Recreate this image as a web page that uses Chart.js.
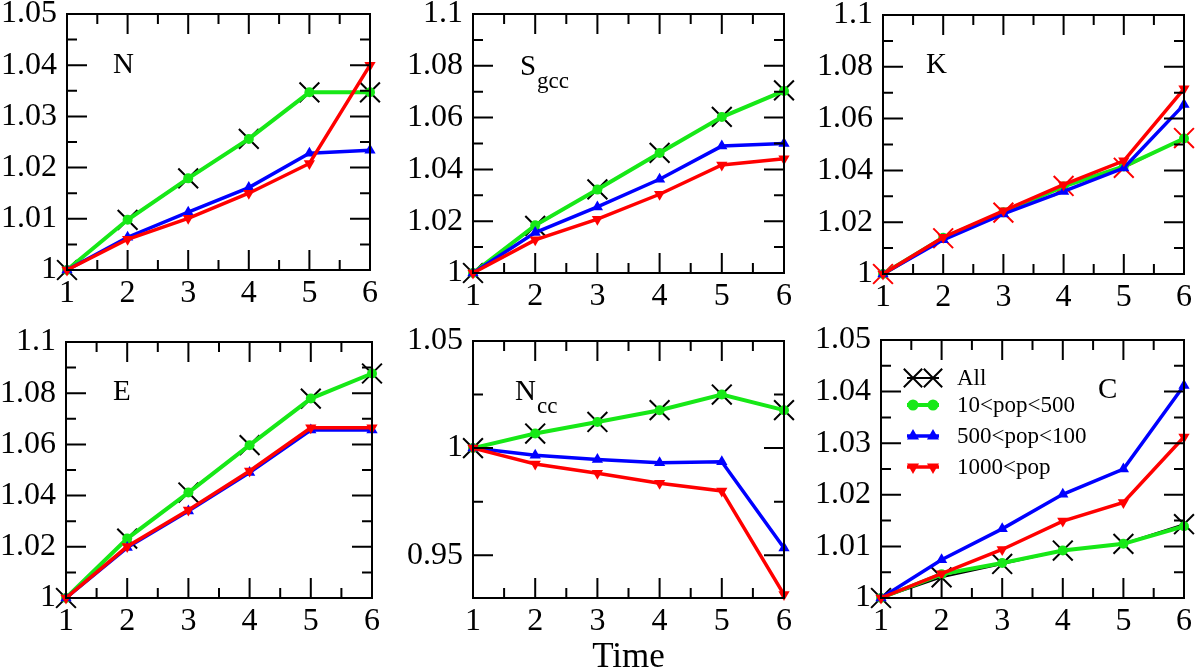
<!DOCTYPE html>
<html>
<head>
<meta charset="utf-8">
<script src="https://cdn.jsdelivr.net/npm/chart.js@4.4.0/dist/chart.umd.min.js"></script>
<style>
  html, body { margin: 0; padding: 0; background: #fff; }
  #wrap { position: relative; width: 1200px; height: 670px; overflow: hidden; }
  .panel { position: absolute; }
</style>
</head>
<body>
<div id="wrap"></div>
<script>
// x values (time steps)
const time = [1, 2, 3, 4, 5, 6]
const seriesNames = ['All', '10<pop<500', '500<pop<100', '1000<pop']

// N
const nAll = [1, 1.0098, 1.0179, 1.0256, 1.0347, 1.0347]
const nSmall = [1, 1.0098, 1.0179, 1.0256, 1.0347, 1.0347]
const nMid = [1, 1.0064, 1.0113, 1.0161, 1.0228, 1.0234]
const nLarge = [1, 1.0060, 1.0101, 1.0150, 1.0208, 1.0400]

// S_gcc
const sAll = [1, 1.0182, 1.0323, 1.0464, 1.0603, 1.0705]
const sSmall = [1, 1.0184, 1.0322, 1.0463, 1.0602, 1.0703]
const sMid = [1, 1.0156, 1.0255, 1.0362, 1.0490, 1.0500]
const sLarge = [1, 1.0128, 1.0208, 1.0304, 1.0417, 1.0441]

// K
const kAll = [1, 1.0138, 1.0237, 1.0340, 1.0410, 1.0525]
const kSmall = [1, 1.0140, 1.0238, 1.0338, 1.0415, 1.0523]
const kMid = [1, 1.0132, 1.0232, 1.0319, 1.0409, 1.0654]
const kLarge = [1, 1.0142, 1.0244, 1.0345, 1.0437, 1.0715]

// E
const eAll = [1, 1.0232, 1.0412, 1.0597, 1.0779, 1.0877]
const eSmall = [1, 1.0232, 1.0412, 1.0597, 1.0779, 1.0877]
const eMid = [1, 1.0197, 1.0340, 1.0490, 1.0656, 1.0656]
const eLarge = [1, 1.0201, 1.0344, 1.0496, 1.0665, 1.0665]

// N_cc
const ncAll = [1, 1.0068, 1.0122, 1.0177, 1.0250, 1.0177]
const ncSmall = [1, 1.0068, 1.0122, 1.0177, 1.0250, 1.0177]
const ncMid = [1, 0.9967, 0.9947, 0.9932, 0.9936, 0.9533]
const ncLarge = [1, 0.9926, 0.9882, 0.9836, 0.9800, 0.9316]

// C
const cAll = [1, 1.0040, 1.0066, 1.0092, 1.0105, 1.0143]
const cSmall = [1, 1.0046, 1.0068, 1.0092, 1.0105, 1.0139]
const cMid = [1, 1.0074, 1.0134, 1.0201, 1.0250, 1.0412]
const cLarge = [1, 1.0047, 1.0094, 1.0149, 1.0185, 1.0312]

// y axis ticks
const ticks005 = [1, 1.01, 1.02, 1.03, 1.04, 1.05]
const minor005 = [1.005, 1.015, 1.025, 1.035, 1.045]
const ticks01 = [1, 1.02, 1.04, 1.06, 1.08, 1.1]
const minor01 = [1.01, 1.03, 1.05, 1.07, 1.09]
const ticksNcc = [0.95, 1, 1.05]
const minorNcc = [0.975, 1.025]
const xMinor = [1.5, 2.5, 3.5, 4.5, 5.5]

const SERIF = '"Liberation Serif", "Times New Roman", serif'
Chart.defaults.font.family = SERIF
Chart.defaults.color = '#000'

const GREEN = '#17e817'
const BLUE = '#0000ff'
const RED = '#ff0000'

const pts = vals => time.map((t, i) => ({ x: t, y: vals[i] }))

function makeSets (all, small, mid, large, allColor) {
  return [
    { label: seriesNames[0], data: pts(all), borderColor: allColor, borderWidth: 2,
      pointStyle: 'crossRot', pointRadius: 14, pointBorderWidth: 2,
      pointBorderColor: allColor, pointBackgroundColor: allColor, order: 4 },
    { label: seriesNames[1], data: pts(small), borderColor: GREEN, borderWidth: 4,
      pointStyle: 'circle', pointRadius: 5, pointBorderWidth: 0,
      pointBackgroundColor: GREEN, order: 3 },
    { label: seriesNames[2], data: pts(mid), borderColor: BLUE, borderWidth: 3.5,
      pointStyle: 'triangle', pointRadius: 6.5, pointBorderWidth: 0,
      pointBackgroundColor: BLUE, order: 2 },
    { label: seriesNames[3], data: pts(large), borderColor: RED, borderWidth: 3.5,
      pointStyle: 'triangle', pointRotation: 180, pointRadius: 6.5, pointBorderWidth: 0,
      pointBackgroundColor: RED, order: 1 }
  ]
}

// box + inward ticks on all four sides, and the panel name
const framePlugin = {
  id: 'frame',
  afterDraw (chart, args, opts) {
    const { ctx, chartArea: a } = chart
    const xs = chart.scales.x
    const ys = chart.scales.y
    ctx.save()
    ctx.strokeStyle = '#000'
    ctx.lineWidth = 2
    ctx.beginPath()
    const tick = (v, len, horiz) => {
      if (horiz) {
        const p = xs.getPixelForValue(v)
        ctx.moveTo(p, a.bottom); ctx.lineTo(p, a.bottom - len)
        ctx.moveTo(p, a.top); ctx.lineTo(p, a.top + len)
      } else {
        const p = ys.getPixelForValue(v)
        ctx.moveTo(a.left, p); ctx.lineTo(a.left + len, p)
        ctx.moveTo(a.right, p); ctx.lineTo(a.right - len, p)
      }
    }
    time.forEach(v => tick(v, 20, true))
    xMinor.forEach(v => tick(v, 10, true))
    opts.yMajor.forEach(v => tick(v, 20, false))
    opts.yMinor.forEach(v => tick(v, 10, false))
    ctx.stroke()
    ctx.strokeRect(a.left, a.top, a.right - a.left, a.bottom - a.top)

    ctx.fillStyle = '#000'
    ctx.textBaseline = 'alphabetic'
    ctx.font = '29px ' + SERIF
    ctx.fillText(opts.name, a.left + opts.lx, a.top + opts.ly)
    if (opts.sub) {
      ctx.font = '23px ' + SERIF
      ctx.fillText(opts.sub, a.left + opts.sx, a.top + opts.sy)
    }
    ctx.restore()
  }
}

function marker (ctx, style, r, rot, x, y) {
  if (Chart.helpers && Chart.helpers.drawPoint) {
    Chart.helpers.drawPoint(ctx, { pointStyle: style, radius: r, rotation: rot || 0, borderWidth: 2 }, x, y)
  }
}

// legend with a short line and two markers, as in the reference
const pairLegend = {
  id: 'pairLegend',
  afterDraw (chart) {
    const { ctx, chartArea: a } = chart
    const rows = [38, 65, 96, 127]
    ctx.save()
    chart.data.datasets.forEach((ds, i) => {
      const y = a.top + rows[i]
      ctx.strokeStyle = ds.borderColor
      ctx.lineWidth = ds.borderWidth
      ctx.beginPath()
      ctx.moveTo(a.left + 26, y); ctx.lineTo(a.left + 58, y)
      ctx.stroke()
      ctx.fillStyle = ds.pointBackgroundColor
      ctx.strokeStyle = ds.pointBorderColor || ds.borderColor
      ctx.lineWidth = 2
      const r = ds.pointStyle === 'crossRot' ? 13 : (ds.pointStyle === 'circle' ? 5.5 : 7)
      ;[32, 52].forEach(dx => {
        if (ds.pointStyle === 'crossRot') {
          marker(ctx, ds.pointStyle, r, 0, a.left + dx, y)
        } else {
          ctx.beginPath()
          ctx.lineWidth = 0.01
          ctx.strokeStyle = ds.pointBackgroundColor
          marker(ctx, ds.pointStyle, r, ds.pointRotation, a.left + dx, y)
        }
      })
      ctx.fillStyle = '#000'
      ctx.font = '23px ' + SERIF
      ctx.textBaseline = 'middle'
      ctx.fillText(ds.label, a.left + 76, y + 1)
    })
    ctx.restore()
  }
}

const fmt = v => String(parseFloat(Number(v).toFixed(3)))

const panels = [
  { box: { l: 67, t: 14, r: 376, b: 270 }, sets: makeSets(nAll, nSmall, nMid, nLarge, '#000'),
    yMin: 1, yMax: 1.05, yMajor: ticks005, yMinor: minor005, name: 'N', lx: 46, ly: 59 },
  { box: { l: 473, t: 14, r: 790, b: 273 }, sets: makeSets(sAll, sSmall, sMid, sLarge, '#000'),
    yMin: 1, yMax: 1.1, yMajor: ticks01, yMinor: minor01, name: 'S', lx: 47, ly: 61, sub: 'gcc', sx: 64, sy: 74 },
  { box: { l: 883, t: 15, r: 1190, b: 274 }, sets: makeSets(kAll, kSmall, kMid, kLarge, RED),
    yMin: 1, yMax: 1.1, yMajor: ticks01, yMinor: minor01, name: 'K', lx: 43, ly: 58 },
  { box: { l: 66, t: 342, r: 378, b: 598 }, sets: makeSets(eAll, eSmall, eMid, eLarge, '#000'),
    yMin: 1, yMax: 1.1, yMajor: ticks01, yMinor: minor01, name: 'E', lx: 47, ly: 58 },
  { box: { l: 473, t: 341, r: 790, b: 598 }, sets: makeSets(ncAll, ncSmall, ncMid, ncLarge, '#000'),
    yMin: 0.93, yMax: 1.05, yMajor: ticksNcc, yMinor: minorNcc, name: 'N', lx: 42, ly: 59, sub: 'cc', sx: 64, sy: 72,
    xTitle: 'Time' },
  { box: { l: 881, t: 340, r: 1190, b: 598 }, sets: makeSets(cAll, cSmall, cMid, cLarge, '#000'),
    yMin: 1, yMax: 1.05, yMajor: ticks005, yMinor: minor005, name: 'C', lx: 217, ly: 58, legend: true }
]

const wrap = document.getElementById('wrap')
const LEFT = 70
const TOP = 20
const RIGHT = 10

panels.forEach(p => {
  const bottomH = p.xTitle ? 670 - p.box.b : 40
  const div = document.createElement('div')
  div.className = 'panel'
  div.style.left = (p.box.l - LEFT) + 'px'
  div.style.top = (p.box.t - TOP) + 'px'
  div.style.width = (p.box.r - p.box.l + LEFT + RIGHT) + 'px'
  div.style.height = (p.box.b - p.box.t + TOP + bottomH) + 'px'
  const canvas = document.createElement('canvas')
  div.appendChild(canvas)
  wrap.appendChild(div)

  new Chart(canvas, {
    type: 'line',
    data: { datasets: p.sets },
    plugins: p.legend ? [framePlugin, pairLegend] : [framePlugin],
    options: {
      responsive: true,
      maintainAspectRatio: false,
      animation: false,
      events: [],
      clip: false,
      layout: { padding: { top: TOP, right: RIGHT, left: 0, bottom: 0 } },
      plugins: {
        legend: { display: false },
        tooltip: { enabled: false },
        frame: { yMajor: p.yMajor, yMinor: p.yMinor, name: p.name, lx: p.lx, ly: p.ly, sub: p.sub, sx: p.sx, sy: p.sy }
      },
      scales: {
        x: {
          type: 'linear',
          min: 1,
          max: 6,
          grid: { display: false, drawTicks: false },
          border: { display: false },
          ticks: { font: { size: 32 }, padding: 4, color: '#000', maxRotation: 0, callback: fmt },
          afterBuildTicks: s => { s.ticks = time.map(v => ({ value: v })) },
          afterFit: s => { s.height = bottomH; s.paddingLeft = 0; s.paddingRight = 0 },
          title: p.xTitle
            ? { display: true, text: p.xTitle, font: { size: 35, lineHeight: 1 }, padding: { top: 0, bottom: -5 }, color: '#000' }
            : { display: false }
        },
        y: {
          type: 'linear',
          min: p.yMin,
          max: p.yMax,
          grid: { display: false, drawTicks: false },
          border: { display: false },
          ticks: { font: { size: 32 }, padding: 10, color: '#000', callback: fmt },
          afterBuildTicks: s => { s.ticks = p.yMajor.map(v => ({ value: v })) },
          afterFit: s => { s.width = LEFT; s.paddingTop = 0; s.paddingBottom = 0 }
        }
      }
    }
  })
})
</script>
</body>
</html>
